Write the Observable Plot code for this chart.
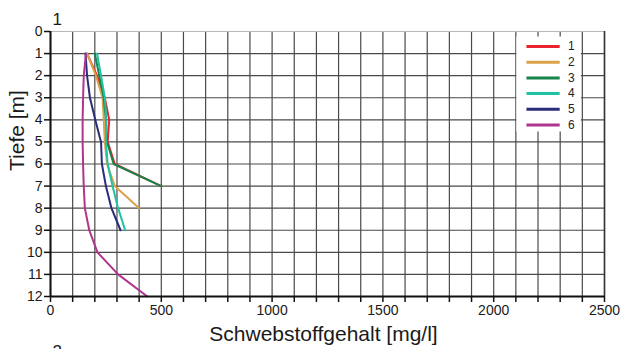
<!DOCTYPE html>
<html>
<head>
<meta charset="utf-8">
<script src="https://cdn.jsdelivr.net/npm/d3@7"></script>
<script src="https://cdn.jsdelivr.net/npm/@observablehq/plot@0.6"></script>
<style>
  html, body { margin: 0; padding: 0; background: #fff; overflow: hidden; }
  #chart svg { display: block; }
</style>
</head>
<body>
<div id="chart"></div>
<script>
// Depth (m) of each measurement per series
const depths1 = [1, 2, 3, 4, 5, 6, 7];
const values1 = [165, 210, 245, 265, 258, 290, 500];
const depths2 = [1, 2, 3, 4, 5, 6, 7, 8];
const values2 = [165, 205, 235, 240, 245, 255, 290, 400];
const depths3 = [1, 2, 3, 4, 5, 6, 7];
const values3 = [200, 220, 240, 250, 255, 285, 500];
const depths4 = [1, 2, 3, 4, 5, 6, 7, 8, 9];
const values4 = [210, 228, 245, 252, 250, 258, 280, 305, 337];
const depths5 = [1, 2, 3, 4, 5, 6, 7, 8, 9];
const values5 = [158, 165, 178, 202, 228, 232, 250, 275, 316];
const depths6 = [1, 2, 3, 4, 5, 6, 7, 8, 9, 10, 11, 12];
const values6 = [160, 150, 147, 145, 145, 147, 150, 155, 175, 212, 305, 437];

const seriesNames = ["1", "2", "3", "4", "5", "6"];
const seriesColors = ["#e8242e", "#dba24a", "#17844a", "#1fc2a4", "#2b2c78", "#b0348e"];

const xTicks = d3.range(0, 2501, 100);
const xLabelTicks = [0, 500, 1000, 1500, 2000, 2500];
const yTicks = d3.range(0, 13, 1);

const panelLabelTop = "1";
const panelLabelBottom = "2";
const xTitle = "Schwebstoffgehalt [mg/l]";
const yTitle = "Tiefe [m]";

const allDepths = [depths1, depths2, depths3, depths4, depths5, depths6];
const allValues = [values1, values2, values3, values4, values5, values6];
const rows = [];
allDepths.forEach((ds, i) => ds.forEach((d, j) => rows.push({series: seriesNames[i], depth: d, value: allValues[i][j]})));

// legend rows (positions computed here, not stored in data arrays)
const legendRows = seriesNames.map((s, i) => ({series: s, y: 0.68 + i * 0.71}));

const font = "Liberation Sans, Arial, Helvetica, sans-serif";

const plot = Plot.plot({
  width: 622,
  height: 349,
  marginLeft: 50,
  marginRight: 18,
  marginTop: 31,
  marginBottom: 53,
  style: {fontFamily: font, color: "#1a1a1a", background: "#fff", overflow: "hidden"},
  x: {domain: [0, 2500]},
  y: {domain: [0, 12], reverse: true},
  color: {domain: seriesNames, range: seriesColors},
  marks: [
    // grid
    Plot.ruleX(xTicks, {stroke: "#4a4a4a", strokeWidth: 1.2}),
    Plot.ruleY(yTicks.filter(d => d > 0 && d < 12), {stroke: "#4a4a4a", strokeWidth: 1.2}),
    Plot.ruleY([0], {stroke: "#b8b8b8", strokeWidth: 1.2}),
    Plot.ruleX([2500], {stroke: "#333", strokeWidth: 1.5}),
    // legend box
    Plot.rect([{}], {x1: 2100, x2: 2400, y1: 0.25, y2: 4.55, fill: "white", insetLeft: 1, insetRight: 1}),
    Plot.ruleY(legendRows, {y: "y", x1: 2150, x2: 2300, stroke: "series", strokeWidth: 3}),
    Plot.text(legendRows, {y: "y", x: 2335, text: "series", textAnchor: "start", fontSize: 12, fill: "#222"}),
    // data
    Plot.line(rows, {x: "value", y: "depth", z: "series", stroke: "series", strokeWidth: 2}),
    // axes
    Plot.axisX({ticks: xTicks, tickFormat: d => (xLabelTicks.includes(d) ? String(d) : ""), tickSize: 6, tickPadding: 3, fontSize: 14, label: null, stroke: "#111", strokeWidth: 1.5}),
    Plot.axisY({ticks: yTicks, tickFormat: d => String(d), tickSize: 6, tickPadding: 2, fontSize: 14, label: null, stroke: "#111", strokeWidth: 1.5}),
    Plot.ruleX([0], {stroke: "#111", strokeWidth: 2}),
    Plot.ruleY([12], {stroke: "#111", strokeWidth: 2}),
    // titles
    Plot.text([xTitle], {frameAnchor: "bottom", dy: 44, dx: -4, text: d => d, fontSize: 21, fill: "#1a1a1a"}),
    Plot.text([yTitle], {frameAnchor: "left", dx: -33, dy: 7, rotate: -90, text: d => d, fontSize: 21, fill: "#1a1a1a"}),
    Plot.text([panelLabelTop], {frameAnchor: "top-left", dx: 2, dy: -19, text: d => d, fontSize: 17, fill: "#1a1a1a"}),
    Plot.text([panelLabelBottom], {frameAnchor: "bottom-left", dx: 2, dy: 60, text: d => d, fontSize: 17, fill: "#1a1a1a"})
  ]
});
document.getElementById("chart").appendChild(plot);
</script>
</body>
</html>
